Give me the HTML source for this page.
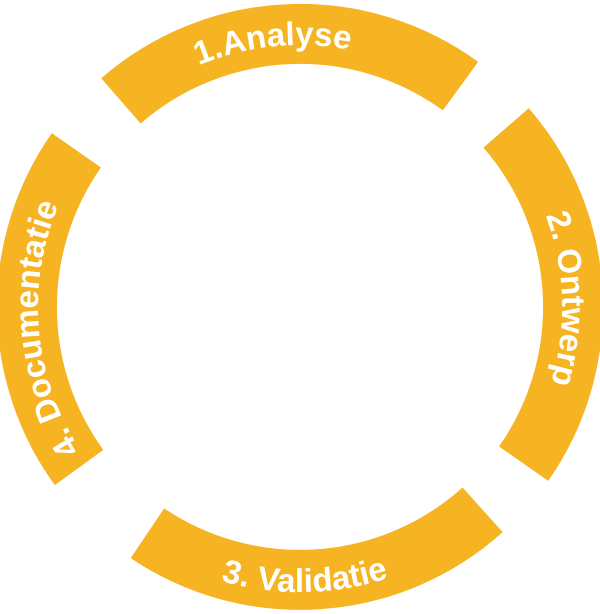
<!DOCTYPE html>
<html><head><meta charset="utf-8"><style>
html,body{margin:0;padding:0;background:#fff;}
svg{display:block}
text{font-family:"Liberation Sans",sans-serif;font-weight:bold;font-size:33px;fill:#fff;}
</style></head><body>
<svg width="600" height="614" viewBox="0 0 600 614" xmlns="http://www.w3.org/2000/svg">
<defs>
<path id="tt" d="M68.7,184 A262,262 0 0 1 494.7,131.7"/>
<path id="tr" d="M442.8,87.2 A262,262 0 0 1 419,540.4"/>
<path id="tb" d="M55.7,453.8 A285,285 0 0 0 549.3,445.2"/>
<path id="tl" d="M189.2,544.4 A262,262 0 0 1 149.7,92.4"/>
</defs>
<g fill="none" stroke="#F6B322" stroke-width="60" stroke-linejoin="round">
<path d="M120.9,100.9 A273,273 0 0 1 460.5,86.1"/>
<path d="M506.1,127.9 A273,273 0 0 1 523.6,463.7"/>
<path d="M482.6,509.8 A273,273 0 0 1 147.4,533.3"/>
<path d="M79.1,467.5 A273,273 0 0 1 76.4,150.3"/>
</g>
<text text-anchor="middle"><textPath href="#tt" startOffset="51%">1.Analyse</textPath></text>
<text text-anchor="middle"><textPath href="#tr" startOffset="46%">2. Ontwerp</textPath></text>
<text text-anchor="middle"><textPath href="#tb" startOffset="50%">3. Validatie</textPath></text>
<text text-anchor="middle"><textPath href="#tl" startOffset="50%">4. Documentatie</textPath></text>
</svg>
</body></html>
